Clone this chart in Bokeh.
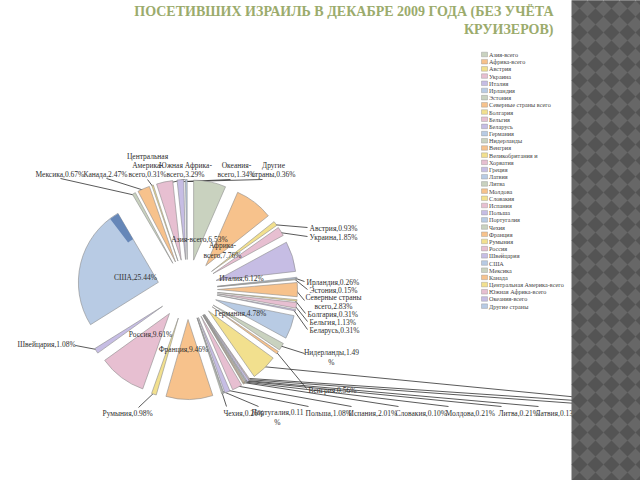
import numpy as np
from bokeh.plotting import figure
from bokeh.models import Range1d
from bokeh.core.properties import value
from bokeh.embed import file_html
from bokeh.resources import INLINE

# ---------------- data ----------------
categories = ["Азия-всего", "Африка-всего", "Австрия", "Украина", "Италия", "Ирландия",
              "Эстония", "Северные страны всего", "Болгария", "Бельгия", "Беларусь",
              "Германия", "Нидерланды", "Венгрия", "Великобритания и", "Хорватия", "Греция",
              "Латвия", "Литва", "Молдова", "Словакия", "Испания", "Польша", "Португалия",
              "Чехия", "Франция", "Румыния", "Россия", "Швейцария", "США", "Мексика",
              "Канада", "Центральная Америка-всего", "Южная Африка-всего",
              "Океания-всего", "Другие страны"]
shares = [6.53, 7.76, 0.93, 1.85, 6.12, 0.26, 0.15, 2.83, 0.31, 1.13, 0.31,
          4.78, 1.49, 0.56, 5.30, 0.17, 0.40, 0.13, 0.21, 0.21, 0.10, 2.01,
          1.08, 0.11, 0.26, 9.46, 0.98, 9.61, 1.08, 25.44, 0.67, 2.47, 0.31,
          3.29, 1.34, 0.36]
title_lines = ["ПОСЕТИВШИХ ИЗРАИЛЬ В ДЕКАБРЕ 2009 ГОДА (БЕЗ УЧЁТА", "КРУИЗЕРОВ)"]

# label display names (line breaks as in the picture)
display_names = {
    "Африка-всего": "Африка-\nвсего",
    "Северные страны всего": "Северные страны\nвсего",
    "Центральная Америка-всего": "Центральная\nАмерика-\nвсего",
    "Южная Африка-всего": "Южная Африка-\nвсего",
    "Океания-всего": "Океания-\nвсего",
    "Другие страны": "Другие\nстраны",
}
pct_wrapped = {"Нидерланды", "Португалия"}

# ---------------- layout (image pixel coords, y downward) ----------------
W, H = 640, 480
CX, CY = 187, 289
R, EXPL = 80, 30
palette = ["#c9d2bf", "#f7c28c", "#f2e08e", "#e7bfd1", "#c6bde4", "#b8cbe4"]

# name: (x, y, align, attach point for leader or None)
label_layout = {
    "Азия-всего": (199, 239, "center", None),
    "Африка-всего": (222, 250, "center", None),
    "Австрия": (309, 228, "left", (307, 227)),
    "Украина": (309, 237, "left", (307, 236)),
    "Италия": (241, 278, "center", None),
    "Ирландия": (306, 282, "left", (304, 281)),
    "Эстония": (309, 290, "left", (307, 289)),
    "Северные страны всего": (333, 301.5, "center", (304, 300)),
    "Болгария": (307, 314, "left", (305, 313)),
    "Бельгия": (309, 322, "left", (307, 321)),
    "Беларусь": (309, 330, "left", (307, 329)),
    "Германия": (240, 313, "center", None),
    "Нидерланды": (331, 357, "center", (304, 353)),
    "Венгрия": (308, 390, "left", (306, 388)),
    "Великобритания и": (None, None, None, (590, 398)),
    "Хорватия": (None, None, None, (590, 401)),
    "Греция": (None, None, None, (590, 404)),
    "Латвия": (535, 413, "left", (538, 406)),
    "Литва": (498, 413, "left", (501, 406)),
    "Молдова": (445, 413, "left", (448, 406)),
    "Словакия": (395, 413, "left", (398, 406)),
    "Испания": (348, 413, "left", (351, 406)),
    "Польша": (305, 413, "left", (308, 406)),
    "Португалия": (277, 417, "center", (258, 406)),
    "Чехия": (223, 413, "left", (226, 406)),
    "Франция": (183, 349, "center", None),
    "Румыния": (102, 413, "left", (138, 407)),
    "Россия": (150, 334, "center", None),
    "Швейцария": (17, 344, "left", (75, 345)),
    "США": (135, 277, "center", None),
    "Мексика": (35, 174, "left", (60, 178)),
    "Канада": (83, 174, "left", (106, 178)),
    "Центральная Америка-всего": (147, 165, "center", (147, 179)),
    "Южная Африка-всего": (185, 169.5, "center", (184, 179)),
    "Океания-всего": (236, 169.5, "center", (230, 179)),
    "Другие страны": (273, 169.5, "center", (262, 179)),
}


def Y(y):
    return H - y


p = figure(width=W, height=H, x_range=Range1d(0, W), y_range=Range1d(0, H),
           output_backend="svg", toolbar_location=None,
           x_axis_location=None, y_axis_location=None, min_border=0)
p.grid.visible = False
p.outline_line_color = None
p.background_fill_color = "white"
p.border_fill_color = "white"

# ---------------- pie ----------------
vals = np.array(shares, dtype=float)
frac = vals / vals.sum()
cum = np.concatenate([[0.0], np.cumsum(frac)])
a_lo = np.pi / 2 - cum[1:] * 2 * np.pi
a_hi = np.pi / 2 - cum[:-1] * 2 * np.pi
mid = (a_lo + a_hi) / 2
ax = CX + EXPL * np.cos(mid)
ay = Y(CY) + EXPL * np.sin(mid)
colors = [palette[i % len(palette)] for i in range(len(categories))]

# leader lines
xs, ys = [], []
for i, name in enumerate(categories):
    lx, ly, al, att = label_layout[name]
    if att is None:
        continue
    ox = ax[i] + (R - 2) * np.cos(mid[i])
    oy = ay[i] + (R - 2) * np.sin(mid[i])
    xs.append([ox, att[0]])
    ys.append([oy, Y(att[1])])
p.multi_line(xs, ys, line_color="#303030", line_width=0.8)

p.wedge(x=ax, y=ay, radius=R, start_angle=a_lo, end_angle=a_hi,
        fill_color=colors, line_color="#8d8d8d", line_width=0.6)

# darker shading at the top of the US slice
us = categories.index("США")
p.annular_wedge(x=ax[us], y=ay[us], inner_radius=50, outer_radius=R - 0.5,
                start_angle=a_lo[us], end_angle=a_lo[us] + 0.12,
                fill_color="#5d7fb2", fill_alpha=0.9, line_color=None)

# slice labels
groups = {}
for i, name in enumerate(categories):
    lx, ly, al, att = label_layout[name]
    if lx is None:
        continue
    base = display_names.get(name, name)
    sep = "\n" if name in pct_wrapped else ""
    txt = f"{base},{shares[i]:.2f}{sep}%"
    groups.setdefault(al, ([], [], []))
    groups[al][0].append(lx)
    groups[al][1].append(Y(ly))
    groups[al][2].append(txt)
for al, (gx, gy, gt) in groups.items():
    p.text(x=gx, y=gy, text=gt, text_align=al, text_baseline="middle",
           text_font=value("Liberation Serif"), text_font_size="7.5px",
           text_color="#2e2e2e", text_line_height=1.05)

# ---------------- legend ----------------
leg_x, leg_y0, leg_dy = 481, 54, 7.19
lyy = [Y(leg_y0 + leg_dy * i) for i in range(len(categories))]
p.rect(x=[leg_x + 3] * len(categories), y=lyy, width=6, height=4.6,
       fill_color=colors, line_color="#8d8d8d", line_width=0.4)
p.text(x=[leg_x + 7.5] * len(categories), y=lyy, text=categories,
       text_baseline="middle", text_align="left",
       text_font=value("Liberation Serif"), text_font_size="6.2px", text_color="#444444")

# ---------------- title ----------------
p.text(x=[553, 553], y=[Y(11), Y(28.5)], text=title_lines, text_align="right",
       text_baseline="middle", text_font=value("Liberation Serif"),
       text_font_style="bold", text_font_size="14px", text_color="#9bab6c")

# ---------------- decorative side panel ----------------
p.quad(left=[571], right=[W + 1], bottom=[-1], top=[H + 1],
       fill_color="#676767", line_color=None)
D = 16
gx, gy = np.meshgrid(np.arange(571 + D / 2, W + D, D), np.arange(0, H + D, D))
p.scatter(x=gx.ravel(), y=gy.ravel(), marker="square", size=D / np.sqrt(2),
          angle=np.pi / 4, fill_color="#545454", line_color=None)

open("out.html", "w").write(file_html(p, INLINE))
